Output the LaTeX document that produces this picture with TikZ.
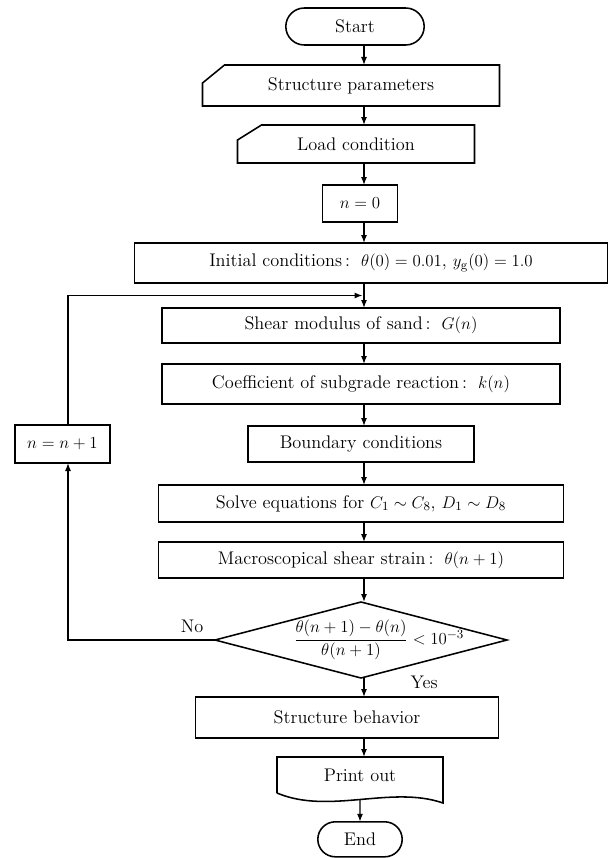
\documentclass[tikz,border=0pt]{standalone}
\usepackage{amsmath}
\usepackage{tikz}
\usetikzlibrary{shapes.geometric, shapes.misc, arrows.meta, positioning, calc}

\begin{document}
\begin{tikzpicture}[
    node distance=0.5cm,
    box/.style={rectangle, draw, line width=1.1pt, inner sep=2pt, outer sep=0pt, align=center, font={\fontsize{13}{15}\selectfont}},
    inbox/.style={rectangle, inner sep=2pt, outer sep=0pt, align=center, font={\fontsize{13}{15}\selectfont}},
    term/.style={rounded rectangle, draw, line width=1.1pt, inner sep=2pt, outer sep=0pt, font={\fontsize{13}{15}\selectfont}},
    decision/.style={diamond, draw, line width=1.1pt, aspect=3.84, inner sep=0pt, outer sep=0pt, font={\fontsize{13}{15}\selectfont}},
    lbl/.style={inner sep=1pt, font={\fontsize{13}{15}\selectfont}},
    arrow/.style={-{Latex[length=2mm, width=1.5mm]}, line width=0.9pt}
]
\useasboundingbox (0,0) rectangle (15.225,-21.45);
\coordinate (axis) at (9.1,0);
\coordinate (lx) at (1.7,0);

% Nodes
\node[term, minimum width=3.6cm, minimum height=0.925cm] (start) at (8.875,-0.6625) {Start};
\node[inbox, below=of start, xshift=-0.1cm, minimum width=7.425cm, minimum height=1.025cm] (par) {Structure parameters};
\node[inbox, below=0.475cm of par, xshift=0.125cm, minimum width=5.925cm, minimum height=0.95cm] (load) {Load condition};
\node[box, below=0.55cm of load, xshift=0.1cm, minimum width=1.875cm, minimum height=0.925cm] (n0) {$n=0$};
\node[box, below=0.525cm of n0, xshift=0.275cm, minimum width=11.825cm, minimum height=1cm] (init)
    {Initial conditions\,:\, $\theta(0)=0.01$, $y_{\mathrm{g}}(0)=1.0$};
\node[box, below=0.625cm of init, xshift=-0.25cm, minimum width=9.95cm, minimum height=0.875cm] (shear)
    {Shear modulus of sand\,:\, $G(n)$};
\node[box, below=0.525cm of shear, minimum width=9.95cm, minimum height=1cm] (coef)
    {Coefficient of subgrade reaction\,:\, $k(n)$};
\node[box, below=0.55cm of coef, minimum width=5.65cm, minimum height=0.9cm] (bound) {Boundary conditions};
\node[box, below=0.575cm of bound, minimum width=10.125cm, minimum height=0.925cm] (solve)
    {Solve equations for $C_1\sim C_8$, $D_1\sim D_8$};
\node[box, below=of solve, minimum width=10.125cm, minimum height=0.9cm] (macro)
    {Macroscopical shear strain\,:\, $\theta(n+1)$};
\node[decision, below=0.6cm of macro, minimum width=7.3cm, minimum height=1.9cm] (dec)
    {\makebox[0pt]{\hspace{0.9cm}$\dfrac{\theta(n+1)-\theta(n)}{\theta(n+1)}<10^{-3}$}};
\node[box, below=0.475cm of dec, xshift=-0.35cm, minimum width=7.575cm, minimum height=1.025cm] (sb) {Structure behavior};
\node[inbox, below=0.475cm of sb, xshift=0.325cm, minimum width=4.15cm, minimum height=0.9cm] (print) {Print out};
\node[term, below=0.72cm of print, minimum width=2.25cm, minimum height=0.875cm] (stop) {End};
\node[box, left=3.45cm of bound, minimum width=2.375cm, minimum height=0.95cm] (inc) {$n=n+1$};

\node[lbl, anchor=east] (no) at ([xshift=-0.25cm, yshift=0.33cm]dec.west) {No};
\node[lbl, anchor=west] (yes) at ([xshift=1.2cm, yshift=-0.1cm]dec.south) {Yes};

% Outlines of input and output boxes
\foreach \n/\dx/\dy in {par/0.55cm/0.45cm, load/0.6cm/0.375cm}
    \draw[line width=1.1pt] ([yshift=-\dy]\n.north west) -- ([xshift=\dx]\n.north west) -- (\n.north east)
        -- (\n.south east) -- (\n.south west) -- cycle;
\draw[line width=1.1pt] (print.south west) -- (print.north west) -- (print.north east)
    -- ([yshift=-0.25cm]print.south east)
    .. controls +(-1.3,0.45) and +(1.3,-0.55) .. (print.south west);

% Connections
\foreach \a/\b in {start/par, par/load, load/n0, n0/init, init/shear, shear/coef, coef/bound,
                   bound/solve, solve/macro, macro/dec, dec/sb, sb/print}
    \draw[arrow] (\a.south -| axis) -- (\b.north -| axis);
\draw[arrow] ([yshift=-0.16cm]print.south) -- (stop);

\coordinate (join) at ($(init.south -| axis)!0.5!(shear.north -| axis)$);
\draw[arrow] (dec.west) -| (inc.south -| lx);
\draw[arrow, shorten >=1pt] (inc.north -| lx) |- (join);

\end{tikzpicture}
\end{document}
